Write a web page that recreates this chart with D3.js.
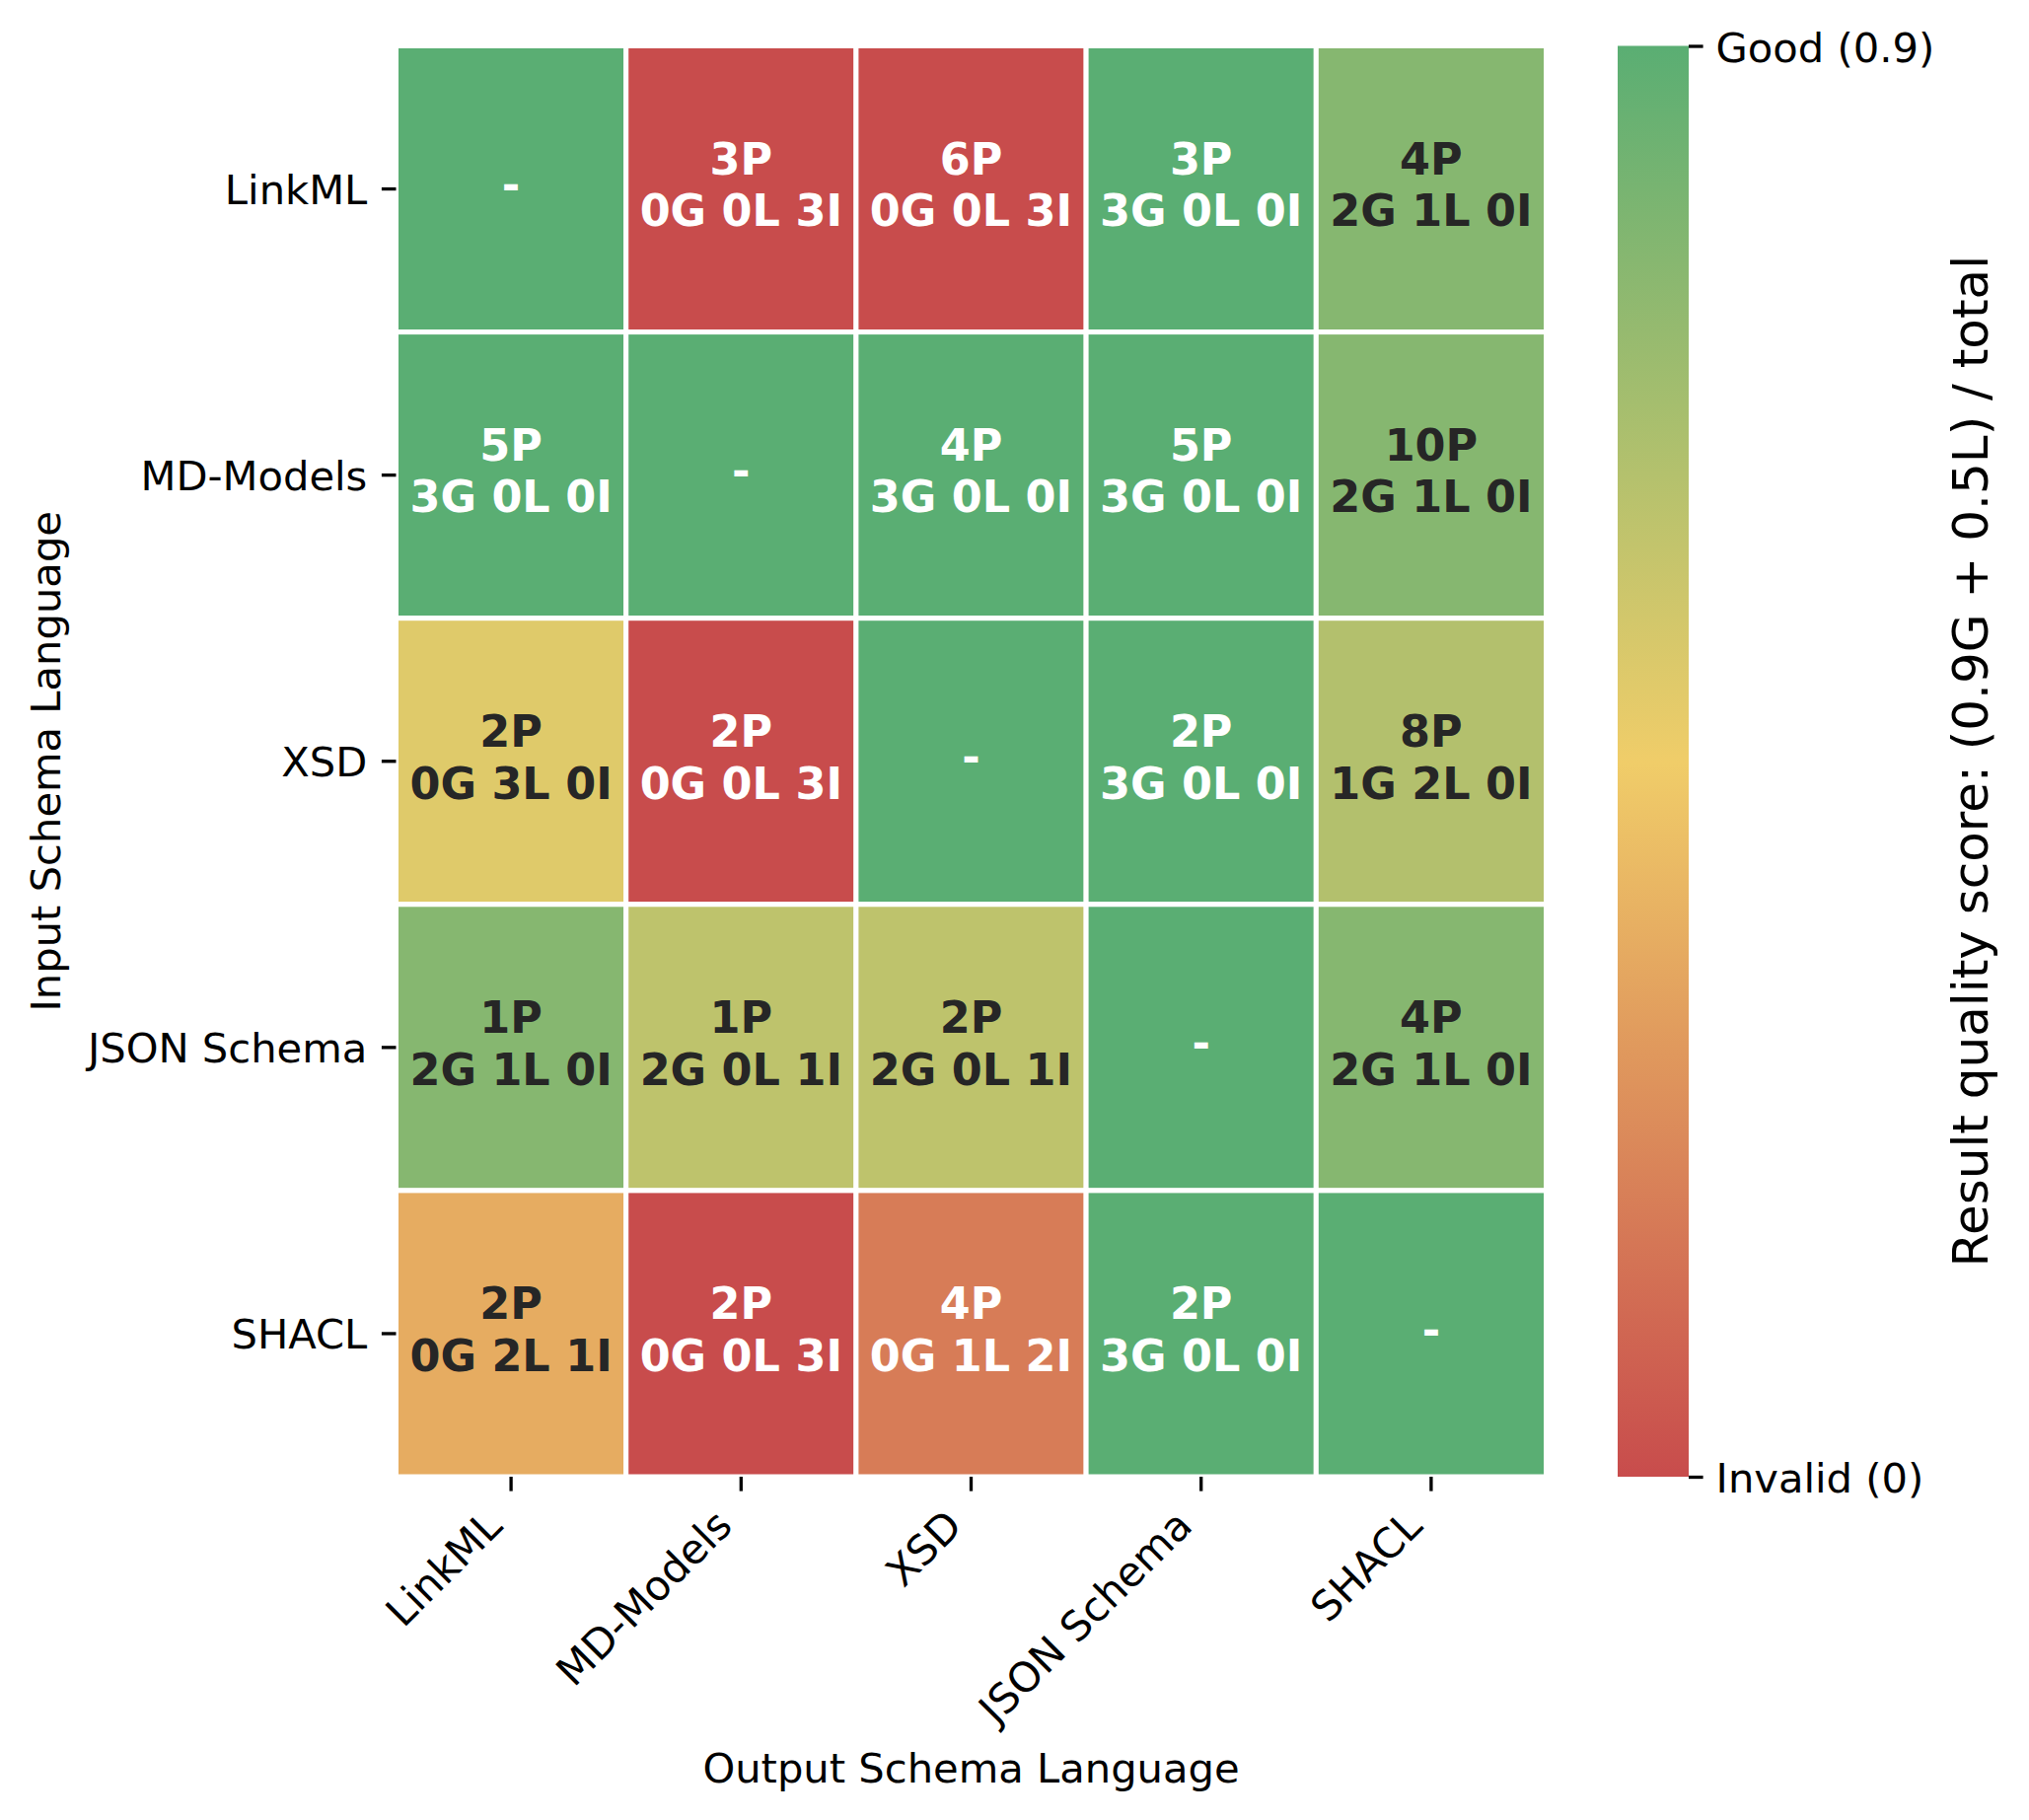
<!DOCTYPE html>
<html>
<head>
<meta charset="utf-8">
<script src="https://cdn.jsdelivr.net/npm/d3@7"></script>
<style>
  body { margin: 0; background: #fff; }
  text { font-family: "DejaVu Sans", sans-serif; }
</style>
</head>
<body>
<div id="container"></div>
<script>
// languages (rows = input, columns = output)
const inputs = ["LinkML", "MD-Models", "XSD", "JSON Schema", "SHACL"];
const outputs = ["LinkML", "MD-Models", "XSD", "JSON Schema", "SHACL"];

// per cell counts, null on the diagonal
const papers = [
  [null, 3, 6, 3, 4],
  [5, null, 4, 5, 10],
  [2, 2, null, 2, 8],
  [1, 1, 2, null, 4],
  [2, 2, 4, 2, null]
];
const good = [
  [null, 0, 0, 3, 2],
  [3, null, 3, 3, 2],
  [0, 0, null, 3, 1],
  [2, 2, 2, null, 2],
  [0, 0, 0, 3, null]
];
const limited = [
  [null, 0, 0, 0, 1],
  [0, null, 0, 0, 1],
  [3, 0, null, 0, 2],
  [1, 0, 0, null, 1],
  [2, 0, 1, 0, null]
];
const invalid = [
  [null, 3, 3, 0, 0],
  [0, null, 0, 0, 0],
  [0, 3, null, 0, 0],
  [0, 1, 1, null, 0],
  [1, 3, 2, 0, null]
];

const cbarTicks = [0, 0.9];
const cbarTickLabels = ["Invalid (0)", "Good (0.9)"];

const W = 2057, H = 1845;
const plot = {left: 401.5, right: 1567.5, top: 46.5, bottom: 1497};

const svg = d3.select("#container")
  .append("svg")
    .attr("width", W)
    .attr("height", H)
    .style("background", "#fff");

const x = d3.scaleBand().domain(outputs).range([plot.left, plot.right]);
const y = d3.scaleBand().domain(inputs).range([plot.top, plot.bottom]);

const color = d3.scaleLinear()
  .domain([0, 0.45, 0.9])
  .range(["#c84c4c", "#f0cd69", "#5aae73"])
  .clamp(true);

// build cell list
const cells = [];
inputs.forEach((inp, i) => {
  outputs.forEach((out, j) => {
    const g = good[i][j], l = limited[i][j], n = invalid[i][j];
    const diag = papers[i][j] === null;
    const score = diag ? 0.9 : (0.9 * g + 0.5 * l) / (g + l + n);
    cells.push({
      inp, out, score, diag,
      lines: diag ? ["-"] : [`${papers[i][j]}P`, `${g}G ${l}L ${n}I`]
    });
  });
});

function lum(c) {
  const rgb = d3.rgb(c);
  const f = v => { v /= 255; return v <= 0.03928 ? v / 12.92 : Math.pow((v + 0.055) / 1.055, 2.4); };
  return 0.2126 * f(rgb.r) + 0.7152 * f(rgb.g) + 0.0722 * f(rgb.b);
}

svg.selectAll("rect.cell")
  .data(cells)
  .enter()
  .append("rect")
    .attr("class", "cell")
    .attr("x", d => x(d.out))
    .attr("y", d => y(d.inp))
    .attr("width", x.bandwidth())
    .attr("height", y.bandwidth())
    .attr("fill", d => color(d.score))
    .attr("stroke", "#fff")
    .attr("stroke-width", 5);

// annotations
const ann = svg.selectAll("text.ann")
  .data(cells)
  .enter()
  .append("text")
    .attr("class", "ann")
    .attr("text-anchor", "middle")
    .attr("font-size", 44.5)
    .attr("font-weight", "bold")
    .attr("fill", d => lum(color(d.score)) > 0.38 ? "#262626" : "#fff");

ann.selectAll("tspan")
  .data(d => d.lines.map((t, k) => ({t, k, n: d.lines.length, d})))
  .enter()
  .append("tspan")
    .attr("x", e => x(e.d.out) + x.bandwidth() / 2)
    .attr("y", e => {
      const cy = y(e.d.inp) + y.bandwidth() / 2;
      if (e.n === 1) return cy + 11.6;
      return cy - 14.8 + e.k * 52.6;
    })
    .text(e => e.t);

// axes
const yAxis = svg.append("g")
  .attr("transform", `translate(${plot.left},0)`)
  .call(d3.axisLeft(y).tickSizeInner(14.6).tickSizeOuter(0).tickPadding(14.6));
yAxis.select(".domain").remove();
yAxis.selectAll("line").attr("stroke", "#000").attr("stroke-width", 3.3);
yAxis.selectAll("text")
  .attr("font-family", "DejaVu Sans")
  .attr("font-size", 41.67)
  .attr("fill", "#000")
  .attr("dy", "0.36em");

const xAxis = svg.append("g")
  .attr("transform", `translate(0,${plot.bottom})`)
  .call(d3.axisBottom(x).tickSizeInner(14.6).tickSizeOuter(0));
xAxis.select(".domain").remove();
xAxis.selectAll("line").attr("stroke", "#000").attr("stroke-width", 3.3);
xAxis.selectAll("text")
  .attr("font-family", "DejaVu Sans")
  .attr("font-size", 41.67)
  .attr("fill", "#000")
  .attr("x", 0)
  .attr("y", 0)
  .attr("dy", 0)
  .attr("text-anchor", "end")
  .attr("transform", "translate(-7,52) rotate(-45)");

// axis titles
svg.append("text")
  .attr("x", (plot.left + plot.right) / 2)
  .attr("y", 1807)
  .attr("text-anchor", "middle")
  .attr("font-size", 41.67)
  .text("Output Schema Language");

svg.append("text")
  .attr("transform", `translate(61,${(plot.top + plot.bottom) / 2}) rotate(-90)`)
  .attr("text-anchor", "middle")
  .attr("font-size", 41.67)
  .text("Input Schema Language");

// colorbar
const cbX = 1640, cbW = 72;
const cbScale = d3.scaleLinear().domain([0, 0.9]).range([plot.bottom, plot.top]);

const defs = svg.append("defs");
const grad = defs.append("linearGradient")
  .attr("id", "cbar")
  .attr("x1", 0).attr("y1", 1)
  .attr("x2", 0).attr("y2", 0);
d3.range(0, 1.0001, 0.05).forEach(t => {
  grad.append("stop")
    .attr("offset", t)
    .attr("stop-color", color(t * 0.9));
});

svg.append("rect")
  .attr("x", cbX)
  .attr("y", cbScale(0.9))
  .attr("width", cbW)
  .attr("height", cbScale(0) - cbScale(0.9))
  .attr("fill", "url(#cbar)");

const cAxis = svg.append("g")
  .attr("transform", `translate(${cbX + cbW},0)`)
  .call(d3.axisRight(cbScale)
    .tickValues(cbarTicks)
    .tickFormat((d, i) => cbarTickLabels[i])
    .tickSizeInner(14.6).tickSizeOuter(0).tickPadding(13));
cAxis.select(".domain").remove();
cAxis.selectAll("line").attr("stroke", "#000").attr("stroke-width", 3.3);
cAxis.selectAll("text")
  .attr("font-family", "DejaVu Sans")
  .attr("font-size", 41.67)
  .attr("fill", "#000")
  .attr("dy", "0.38em");

svg.append("text")
  .attr("transform", `translate(2015,${(plot.top + plot.bottom) / 2}) rotate(-90)`)
  .attr("text-anchor", "middle")
  .attr("font-size", 50)
  .text("Result quality score: (0.9G + 0.5L) / total");
</script>
</body>
</html>
